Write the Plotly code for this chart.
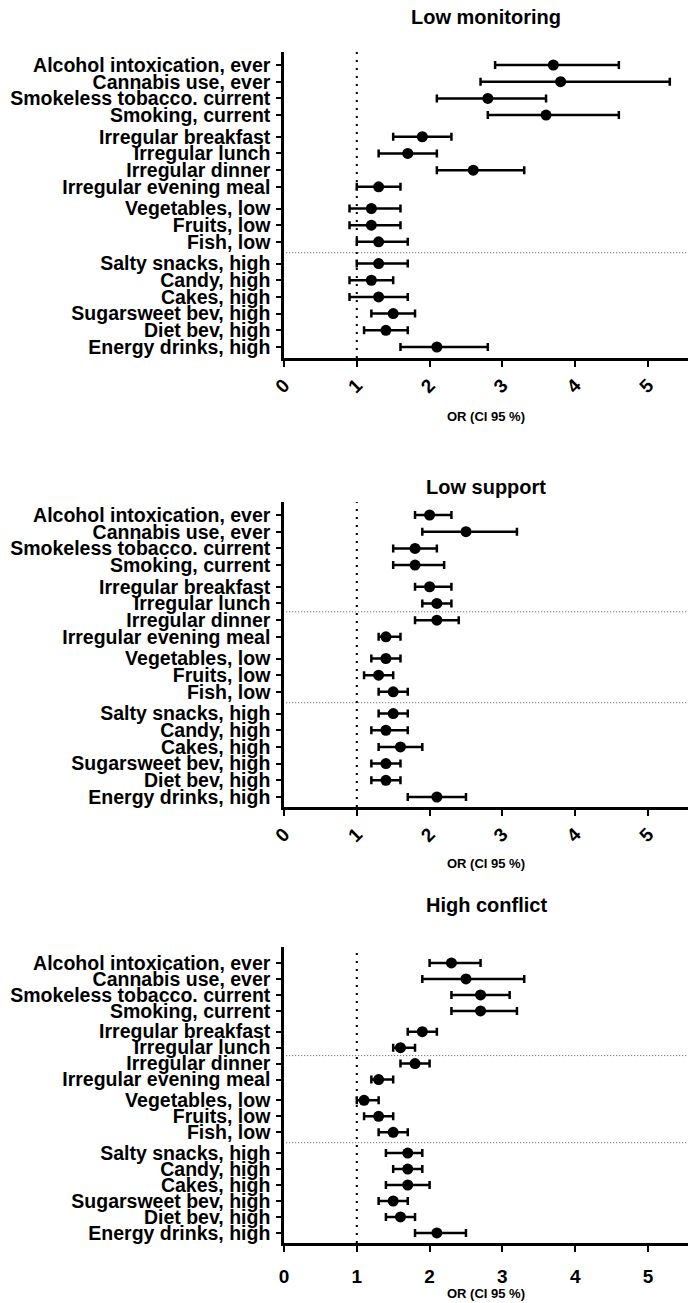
import plotly.graph_objects as go

# ---------------- data ----------------
categories = [
    "Alcohol intoxication, ever", "Cannabis use, ever", "Smokeless tobacco. current",
    "Smoking, current", "Irregular breakfast", "Irregular lunch", "Irregular dinner",
    "Irregular evening meal", "Vegetables, low", "Fruits, low", "Fish, low",
    "Salty snacks, high", "Candy, high", "Cakes, high", "Sugarsweet bev, high",
    "Diet bev, high", "Energy drinks, high",
]
category_group = [0, 0, 0, 0, 1, 1, 1, 1, 2, 2, 2, 3, 3, 3, 3, 3, 3]

panel_titles = ["Low monitoring", "Low support", "High conflict"]

or_low_monitoring = [3.7, 3.8, 2.8, 3.6, 1.9, 1.7, 2.6, 1.3, 1.2, 1.2, 1.3, 1.3, 1.2, 1.3, 1.5, 1.4, 2.1]
lo_low_monitoring = [2.9, 2.7, 2.1, 2.8, 1.5, 1.3, 2.1, 1.0, 0.9, 0.9, 1.0, 1.0, 0.9, 0.9, 1.2, 1.1, 1.6]
hi_low_monitoring = [4.6, 5.3, 3.6, 4.6, 2.3, 2.1, 3.3, 1.6, 1.6, 1.6, 1.7, 1.7, 1.5, 1.7, 1.8, 1.7, 2.8]

or_low_support = [2.0, 2.5, 1.8, 1.8, 2.0, 2.1, 2.1, 1.4, 1.4, 1.3, 1.5, 1.5, 1.4, 1.6, 1.4, 1.4, 2.1]
lo_low_support = [1.8, 1.9, 1.5, 1.5, 1.8, 1.9, 1.8, 1.3, 1.2, 1.1, 1.3, 1.3, 1.2, 1.3, 1.2, 1.2, 1.7]
hi_low_support = [2.3, 3.2, 2.1, 2.2, 2.3, 2.3, 2.4, 1.6, 1.6, 1.5, 1.7, 1.7, 1.7, 1.9, 1.6, 1.6, 2.5]

or_high_conflict = [2.3, 2.5, 2.7, 2.7, 1.9, 1.6, 1.8, 1.3, 1.1, 1.3, 1.5, 1.7, 1.7, 1.7, 1.5, 1.6, 2.1]
lo_high_conflict = [2.0, 1.9, 2.3, 2.3, 1.7, 1.5, 1.6, 1.2, 1.0, 1.1, 1.3, 1.4, 1.5, 1.4, 1.3, 1.4, 1.8]
hi_high_conflict = [2.7, 3.3, 3.1, 3.2, 2.1, 1.8, 2.0, 1.5, 1.3, 1.5, 1.7, 1.9, 1.9, 2.0, 1.7, 1.8, 2.5]

# dotted separators drawn after these row indices
separators_after = [[10], [5, 10], [5, 10]]

x_ticks = [0, 1, 2, 3, 4, 5]
x_range = [0, 5.55]
reference_or = 1
x_title = "OR (CI 95 %)"

# ---------------- layout helpers ----------------
GROUP_GAP = 0.3
positions = [i + GROUP_GAP * g for i, g in enumerate(category_group)]

W, H = 689, 1303
x_dom = [284 / W, 688 / W]
# (top px, bottom px, y range, title px, axis-title px, tick angle, tick standoff)
panels_px = [
    (52, 358, [17.56, -0.78], 17, 417, -45, 0),
    (502, 807, [17.50, -0.78], 487, 863, -45, 0),
    (947, 1243, [17.53, -1.00], 905, 1293, 0, 8),
]

data = [
    (or_low_monitoring, lo_low_monitoring, hi_low_monitoring),
    (or_low_support, lo_low_support, hi_low_support),
    (or_high_conflict, lo_high_conflict, hi_high_conflict),
]

FONT = "Liberation Sans, Arial, sans-serif"
fig = go.Figure()
shapes = []
annotations = []

for k, ((vals, lo, hi), (top, bot, yr, tpx, apx, tang, tstand)) in enumerate(zip(data, panels_px)):
    sfx = "" if k == 0 else str(k + 1)
    xa, ya = "x" + sfx, "y" + sfx
    fig.add_trace(go.Scatter(
        x=vals, y=positions, xaxis=xa, yaxis=ya, mode="markers",
        marker=dict(color="black", size=11, symbol="circle"),
        error_x=dict(type="data", symmetric=False,
                     array=[h - v for h, v in zip(hi, vals)],
                     arrayminus=[v - l for v, l in zip(vals, lo)],
                     color="black", thickness=2.5, width=4),
        showlegend=False, hoverinfo="skip", cliponaxis=False,
    ))
    dom = [1 - bot / H, 1 - top / H]
    fig.update_layout(**{
        "xaxis" + sfx: dict(
            domain=x_dom, range=x_range, tickvals=x_ticks, ticktext=[str(t) for t in x_ticks],
            showgrid=False, zeroline=False, showline=True, linecolor="black", linewidth=2.5,
            ticks="outside", ticklen=6, tickwidth=2, tickcolor="black",
            tickangle=tang, anchor=ya, automargin=False, ticklabelstandoff=tstand,
            tickfont=dict(family=FONT, size=19, color="black", weight=700),
        ),
        "yaxis" + sfx: dict(
            domain=dom, range=yr, tickvals=positions, ticktext=categories,
            showgrid=False, zeroline=False, showline=True, linecolor="black", linewidth=2.5,
            ticks="outside", ticklen=5, tickwidth=2, tickcolor="black", anchor=xa,
            automargin=False, ticklabelstandoff=2,
            tickfont=dict(family=FONT, size=19.5, color="black", weight=700),
        ),
    })
    # reference line at OR = 1
    shapes.append(dict(type="line", xref=xa, yref=ya + " domain", x0=reference_or, x1=reference_or,
                       y0=0, y1=1, line=dict(color="black", width=2, dash="2px,6px"), layer="below"))
    for i in separators_after[k]:
        ysep = (positions[i] + positions[i + 1]) / 2
        shapes.append(dict(type="line", xref=xa, yref=ya, x0=0.03, x1=x_range[1], y0=ysep, y1=ysep,
                           line=dict(color="#555555", width=1, dash="1px,2px"), layer="below"))
    xc = (x_dom[0] + x_dom[1]) / 2
    annotations.append(dict(text=panel_titles[k], xref="paper", yref="paper", x=xc, y=1 - tpx / H,
                            showarrow=False, xanchor="center", yanchor="middle",
                            font=dict(family=FONT, size=20, color="black", weight=700)))
    annotations.append(dict(text=x_title, xref="paper", yref="paper", x=xc, y=1 - apx / H,
                            showarrow=False, xanchor="center", yanchor="middle",
                            font=dict(family=FONT, size=13, color="black", weight=700)))

fig.update_layout(
    width=W, height=H, margin=dict(l=0, r=0, t=0, b=0, autoexpand=False),
    paper_bgcolor="white", plot_bgcolor="white",
    shapes=shapes, annotations=annotations,
)

fig.write_html("out.html", config={"displayModeBar": False},
               post_script="document.body.style.margin='0';document.body.style.overflow='hidden';")
